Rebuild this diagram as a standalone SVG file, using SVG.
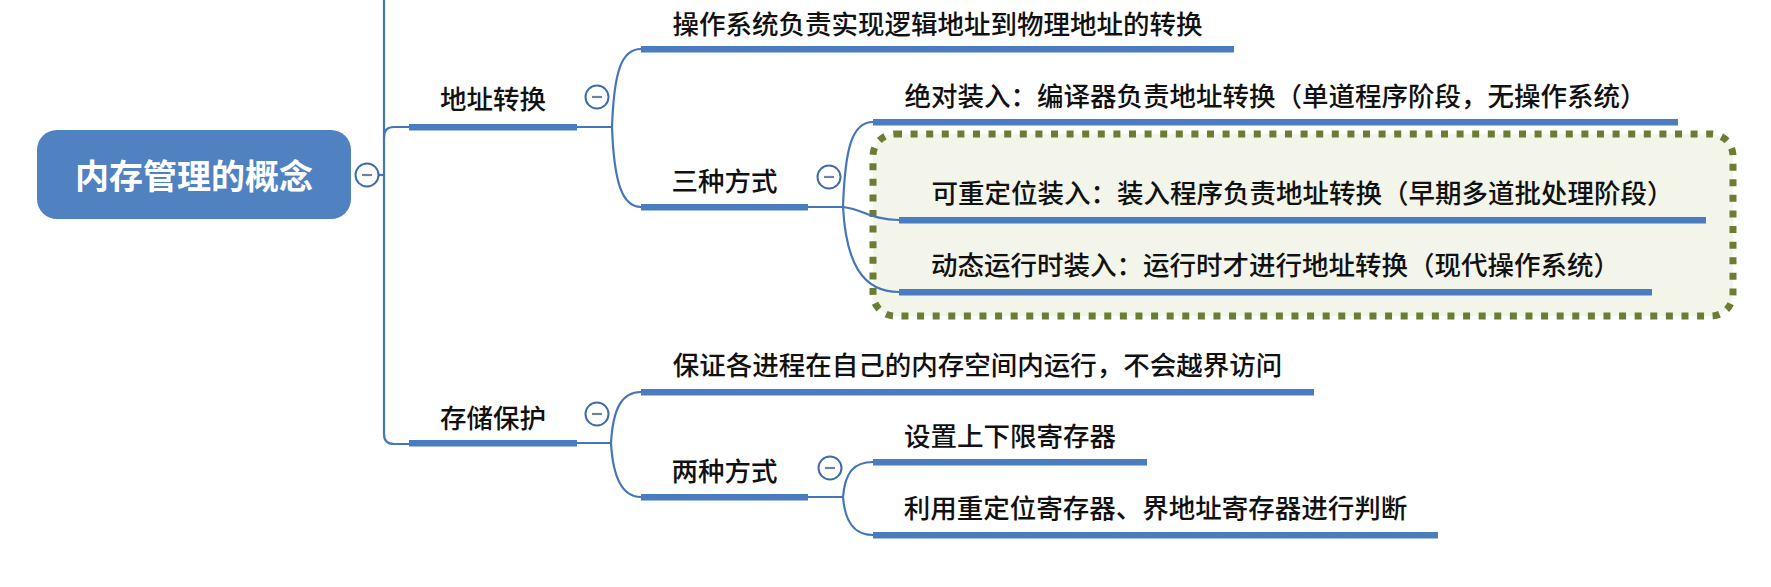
<svg xmlns="http://www.w3.org/2000/svg" width="1771" height="587" viewBox="0 0 1771 587">
  <style>
    .t { font-family: "Noto Sans CJK SC", "Noto Sans", sans-serif; font-size: 26.5px; font-weight: 500; fill: #111; text-anchor: middle; }
    .root { font-family: "Noto Sans CJK SC", "Noto Sans", sans-serif; font-size: 34px; font-weight: bold; fill: #fff; text-anchor: middle; }
    .bar { fill: #4A7DC0; }
    .c { fill: none; stroke: #4476B9; stroke-width: 2.2; }
    .tog circle { fill: #fff; stroke: #3F6CA9; stroke-width: 2; }
    .tog line { stroke: #6F819B; stroke-width: 2.2; }
  </style>
  <defs>
    <g id="tog" class="tog"><circle cx="0" cy="0" r="11.5"/><line x1="-5" y1="0" x2="5" y2="0"/></g>
  </defs>
  <rect width="1771" height="587" fill="#fff"/>

  <!-- dotted boundary -->
  <g id="boundary">
    <rect x="873" y="134" width="860" height="182" rx="22" ry="22" fill="#F3F5EA" stroke="#6B7D33" stroke-width="7" stroke-dasharray="7 8.6"/>
  </g>

  <g id="connectors">
    <path class="c" d="M384 0 V434 Q384 444 394 444 H409"/>
    <path class="c" d="M384 137 Q384 127 394 127 H409"/>
    <path class="c" d="M379 175 H384"/>
    <path class="c" d="M577 127 H612"/>
    <path class="c" d="M612 127 C614 70 622 49 641 49"/>
    <path class="c" d="M612 127 C614 182 622 207 641 207"/>
    <path class="c" d="M808 207 H843"/>
    <path class="c" d="M843 207 C845 148 852 122 873 122"/>
    <path class="c" d="M843 207 C862 209 872 220 899 220"/>
    <path class="c" d="M843 207 C846 262 862 292 899 292"/>
    <path class="c" d="M577 443 H611"/>
    <path class="c" d="M611 443 C613 408 622 392 641 392"/>
    <path class="c" d="M611 443 C613 478 622 497 641 497"/>
    <path class="c" d="M808 497 H843"/>
    <path class="c" d="M843 497 C845 472 854 462 873 462"/>
    <path class="c" d="M843 497 C845 522 854 535 873 535"/>
  </g>

  <g id="root">
    <rect x="37" y="130" width="314" height="89" rx="20" ry="20" fill="#5082C2"/>
    <text class="root" x="194" y="189">内存管理的概念</text>
    <use href="#tog" x="367" y="175"/>
  </g>

  <g id="n-addr">
    <rect class="bar" x="409" y="124" width="168" height="6.5"/>
    <text class="t" x="493" y="109">地址转换</text>
    <use href="#tog" x="597" y="97"/>
  </g>
  <g id="n-os">
    <rect class="bar" x="641" y="46" width="593" height="6.5"/>
    <text class="t" x="937.5" y="33.5">操作系统负责实现逻辑地址到物理地址的转换</text>
  </g>
  <g id="n-three">
    <rect class="bar" x="641" y="204" width="167" height="6.5"/>
    <text class="t" x="724.5" y="191">三种方式</text>
    <use href="#tog" x="829" y="177"/>
  </g>
  <g id="n-abs">
    <rect class="bar" x="873" y="119" width="805" height="6.5"/>
    <text class="t" x="1275.5" y="106">绝对装入：编译器负责地址转换（单道程序阶段，无操作系统）</text>
  </g>
  <g id="n-reloc">
    <rect class="bar" x="899" y="217" width="807" height="6.5"/>
    <text class="t" x="1302.5" y="203">可重定位装入：装入程序负责地址转换（早期多道批处理阶段）</text>
  </g>
  <g id="n-dyn">
    <rect class="bar" x="899" y="289" width="753" height="6.5"/>
    <text class="t" x="1275.5" y="275">动态运行时装入：运行时才进行地址转换（现代操作系统）</text>
  </g>

  <g id="n-protect">
    <rect class="bar" x="409" y="440" width="168" height="6.5"/>
    <text class="t" x="493" y="428">存储保护</text>
    <use href="#tog" x="597" y="414"/>
  </g>
  <g id="n-guarantee">
    <rect class="bar" x="641" y="389" width="673" height="6.5"/>
    <text class="t" x="977.5" y="375">保证各进程在自己的内存空间内运行，不会越界访问</text>
  </g>
  <g id="n-two">
    <rect class="bar" x="641" y="494" width="167" height="6.5"/>
    <text class="t" x="724.5" y="481">两种方式</text>
    <use href="#tog" x="830" y="468"/>
  </g>
  <g id="n-bounds">
    <rect class="bar" x="873" y="459" width="274" height="6.5"/>
    <text class="t" x="1010" y="446">设置上下限寄存器</text>
  </g>
  <g id="n-relocreg">
    <rect class="bar" x="873" y="532" width="565" height="6.5"/>
    <text class="t" x="1155.5" y="518">利用重定位寄存器、界地址寄存器进行判断</text>
  </g>
</svg>
